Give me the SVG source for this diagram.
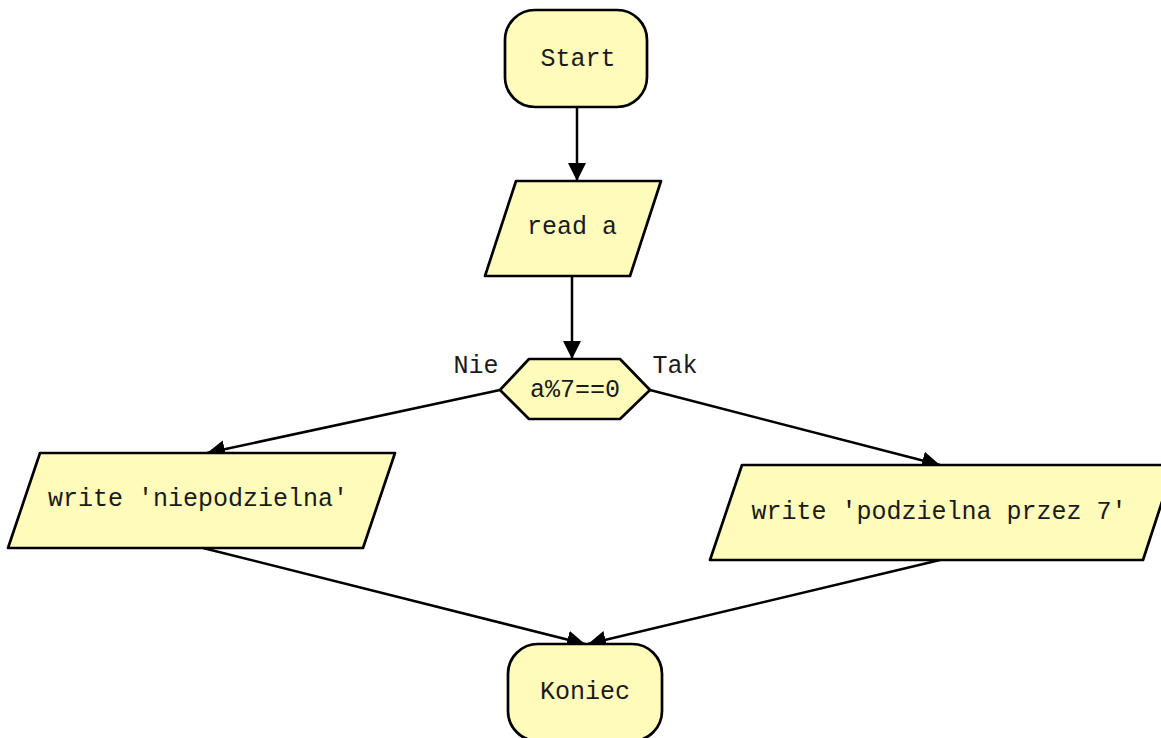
<svg xmlns="http://www.w3.org/2000/svg" width="1161" height="738" viewBox="0 0 1161 738">
<defs>
<style>
.n{fill:#fffbbb;stroke:#000;stroke-width:2.7;stroke-linejoin:round}
.t{font-family:"Liberation Mono","Courier New",monospace;font-size:25px;fill:#1a1a1a;text-anchor:middle;dominant-baseline:central}
.e{fill:none;stroke:#000;stroke-width:2.5}
</style>
<marker id="ah" markerUnits="userSpaceOnUse" markerWidth="18" markerHeight="18" viewBox="0 0 16 16" refX="16" refY="8" orient="auto">
<path d="M0,0 L16,8 L0,16 Z" fill="#000"/>
</marker>
</defs>
<rect width="1161" height="738" fill="#fff"/>
<g id="edges">
<line class="e" x1="577" y1="107" x2="577" y2="181" marker-end="url(#ah)"/>
<line class="e" x1="572" y1="276" x2="572" y2="359" marker-end="url(#ah)"/>
<line class="e" x1="500" y1="390" x2="207" y2="453" marker-end="url(#ah)"/>
<line class="e" x1="650" y1="390" x2="940" y2="465" marker-end="url(#ah)"/>
<line class="e" x1="203" y1="548" x2="585" y2="644" marker-end="url(#ah)"/>
<line class="e" x1="940" y1="560" x2="588" y2="644" marker-end="url(#ah)"/>
<text class="t" x="476" y="366">Nie</text>
<text class="t" x="675" y="366">Tak</text>
</g>
<g id="start">
<rect class="n" x="505" y="10" width="142" height="97" rx="30" ry="30"/>
<text class="t" x="578" y="59">Start</text>
</g>
<g id="read">
<polygon class="n" points="516,181 661,181 630,276 485,276"/>
<text class="t" x="572" y="227">read a</text>
</g>
<g id="decision">
<polygon class="n" points="500,390 529,359 620,359 650,390 620,419 529,419"/>
<text class="t" x="575" y="390">a%7==0</text>
</g>
<g id="write-no">
<polygon class="n" points="40,453 395,453 363,548 8,548"/>
<text class="t" x="198" y="499">write 'niepodzielna'</text>
</g>
<g id="write-yes">
<polygon class="n" points="742,465 1174,465 1143,560 710,560"/>
<text class="t" x="939" y="512">write 'podzielna przez 7'</text>
</g>
<g id="end">
<rect class="n" x="508" y="644" width="154" height="97" rx="30" ry="30"/>
<text class="t" x="585" y="692">Koniec</text>
</g>
</svg>
